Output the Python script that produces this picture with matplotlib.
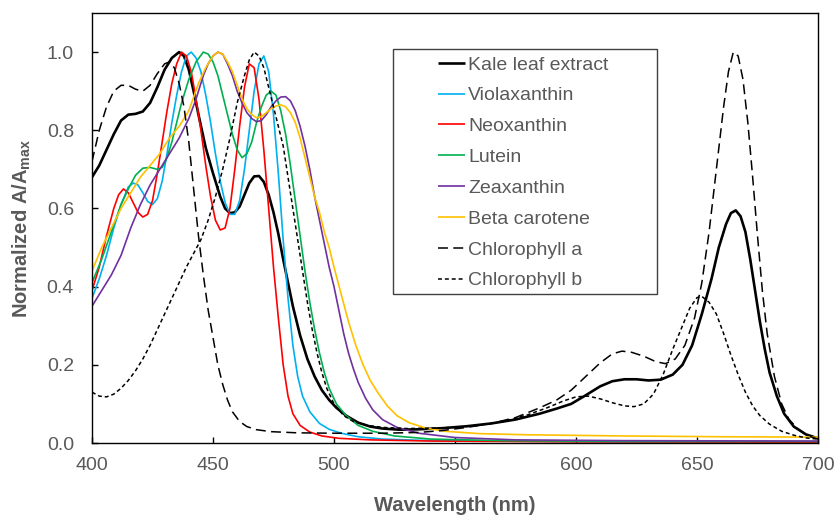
import matplotlib
matplotlib.use("Agg")
import matplotlib.pyplot as plt
from matplotlib.patches import Rectangle

plt.rcParams['font.family'] = ['Liberation Sans', 'DejaVu Sans']
plt.rcParams['mathtext.fontset'] = 'custom'
plt.rcParams['mathtext.rm'] = 'Liberation Sans'
plt.rcParams['mathtext.bf'] = 'Liberation Sans:bold'

# ---------------- data ----------------
kale_wl = [400, 403, 406, 409, 412, 415, 418, 421, 424, 427, 430, 433, 436, 438, 440, 442, 444, 447, 450, 453,
           455, 457, 459, 461, 463, 465, 467, 469, 471, 473, 475, 477, 479, 481, 483, 486, 489, 492, 495, 498,
           501, 505, 510, 515, 520, 527, 535, 545, 555, 565, 575, 585, 592, 598, 604, 610, 615, 620, 625, 630,
           635, 640, 644, 648, 652, 656, 659, 662, 664, 666, 668, 670, 672, 674, 676, 678, 680, 683, 686, 690,
           695, 700]
kale = [0.68, 0.71, 0.75, 0.79, 0.825, 0.84, 0.842, 0.848, 0.87, 0.91, 0.955, 0.985, 1.0, 0.99, 0.955, 0.9, 0.84,
        0.755, 0.69, 0.63, 0.60, 0.588, 0.59, 0.605, 0.635, 0.665, 0.682, 0.683, 0.668, 0.635, 0.59, 0.535, 0.47,
        0.41, 0.35, 0.275, 0.215, 0.17, 0.135, 0.11, 0.09, 0.07, 0.052, 0.042, 0.037, 0.034, 0.035, 0.038, 0.043,
        0.05, 0.06, 0.075, 0.088, 0.1, 0.122, 0.145, 0.158, 0.163, 0.163, 0.16, 0.162, 0.175, 0.2, 0.25, 0.33,
        0.42, 0.5, 0.56, 0.588, 0.595, 0.58, 0.54, 0.47, 0.39, 0.31, 0.24, 0.18, 0.12, 0.075, 0.042, 0.022, 0.012]

viola_wl = [400, 403, 406, 409, 412, 415, 417, 419, 421, 423, 425, 427, 429, 431, 433, 435, 437, 439, 441, 443,
            445, 447, 449, 451, 453, 455, 457, 459, 461, 463, 465, 467, 469, 471, 473, 475, 477, 479, 481, 483,
            485, 487, 490, 494, 498, 503, 510, 520, 535, 560, 600, 650, 700]
viola = [0.37, 0.42, 0.48, 0.55, 0.61, 0.655, 0.665, 0.66, 0.64, 0.618, 0.61, 0.625, 0.67, 0.74, 0.82, 0.89, 0.95,
         0.99, 1.0, 0.985, 0.95, 0.89, 0.82, 0.74, 0.67, 0.615, 0.585, 0.585, 0.62, 0.7, 0.8, 0.9, 0.97, 0.99,
         0.95, 0.84, 0.69, 0.52, 0.37, 0.25, 0.17, 0.12, 0.08, 0.05, 0.035, 0.025, 0.016, 0.01, 0.007, 0.005,
         0.004, 0.003, 0.003]

neo_wl = [400, 403, 406, 409, 411, 413, 415, 417, 419, 421, 423, 425, 427, 429, 431, 433, 435, 437, 439, 441,
          443, 445, 447, 449, 451, 453, 455, 457, 459, 461, 463, 465, 467, 469, 471, 473, 475, 477, 479, 481,
          483, 486, 490, 495, 502, 515, 540, 600, 700]
neo = [0.39, 0.45, 0.53, 0.6, 0.635, 0.65, 0.64, 0.615, 0.59, 0.578, 0.585, 0.62, 0.69, 0.77, 0.85, 0.92, 0.97,
       1.0, 0.99, 0.95, 0.88, 0.8, 0.71, 0.63, 0.57, 0.545, 0.55, 0.6, 0.7, 0.81, 0.91, 0.97, 0.96, 0.88, 0.75,
       0.6, 0.45, 0.32, 0.2, 0.12, 0.075, 0.045, 0.028, 0.018, 0.012, 0.008, 0.005, 0.003, 0.002]

lut_wl = [400, 404, 408, 412, 415, 418, 421, 424, 427, 429, 431, 433, 435, 437, 440, 443, 446, 448, 450, 452,
          454, 456, 458, 460, 462, 464, 466, 468, 470, 472, 474, 476, 478, 480, 482, 484, 486, 488, 490, 492,
          494, 496, 498, 501, 505, 510, 516, 525, 540, 570, 620, 700]
lut = [0.41, 0.47, 0.54, 0.61, 0.65, 0.685, 0.703, 0.705, 0.7, 0.705, 0.73, 0.77, 0.82, 0.87, 0.93, 0.975, 1.0,
       0.995, 0.975, 0.94, 0.89, 0.84, 0.79, 0.75, 0.73, 0.74, 0.77, 0.82, 0.86, 0.89, 0.9, 0.89, 0.85, 0.79,
       0.71, 0.62, 0.53, 0.44, 0.36, 0.29, 0.23, 0.18, 0.14, 0.1, 0.07, 0.045, 0.03, 0.018, 0.01, 0.006, 0.004,
       0.004]

zea_wl = [400, 404, 408, 412, 416, 420, 424, 428, 432, 436, 440, 443, 446, 448, 450, 452, 454, 456, 458, 460,
          462, 464, 466, 468, 470, 472, 474, 476, 478, 480, 482, 484, 486, 488, 490, 492, 494, 496, 498, 500,
          502, 504, 506, 508, 510, 513, 516, 520, 526, 535, 550, 575, 620, 700]
zea = [0.35, 0.39, 0.43, 0.48, 0.55, 0.61, 0.66, 0.7, 0.74, 0.78, 0.83, 0.88, 0.94, 0.97, 0.99, 1.0, 0.995,
       0.97, 0.94, 0.9, 0.87, 0.845, 0.83, 0.822, 0.825, 0.84, 0.86, 0.875, 0.885, 0.886, 0.875, 0.85, 0.81,
       0.76, 0.7, 0.63, 0.57, 0.51, 0.45, 0.4, 0.34, 0.28, 0.23, 0.19, 0.155, 0.115, 0.085, 0.06, 0.04, 0.025,
       0.014, 0.008, 0.006, 0.005]

beta_wl = [400, 404, 408, 412, 416, 420, 424, 428, 432, 436, 440, 444, 447, 450, 452, 454, 456, 458, 460, 462,
           464, 466, 468, 470, 472, 474, 476, 478, 480, 482, 484, 486, 488, 490, 492, 494, 496, 498, 500, 503,
           506, 509, 512, 515, 518, 522, 526, 531, 538, 546, 560, 580, 620, 660, 700]
beta = [0.44, 0.5, 0.55, 0.6, 0.64, 0.68, 0.71, 0.74, 0.78, 0.81, 0.85, 0.92, 0.96, 0.99, 1.0, 0.995, 0.975,
        0.95, 0.915, 0.88, 0.855, 0.84, 0.832, 0.835, 0.845, 0.855, 0.862, 0.865, 0.86, 0.845, 0.82, 0.78, 0.73,
        0.68, 0.63, 0.59, 0.54, 0.5, 0.45, 0.38, 0.31, 0.25, 0.2, 0.16, 0.13, 0.095, 0.07, 0.052, 0.038, 0.03,
        0.024, 0.021, 0.018, 0.016, 0.015]

chla_wl = [400, 403, 406, 409, 412, 415, 418, 421, 424, 427, 430, 432, 434, 436, 438, 440, 442, 444, 446, 448,
           450, 452, 454, 456, 458, 461, 464, 468, 474, 485, 500, 520, 535, 545, 555, 565, 575, 585, 592, 598,
           604, 610, 615, 619, 623, 628, 633, 637, 641, 645, 649, 652, 655, 658, 661, 663, 665, 667, 669, 671,
           673, 675, 677, 679, 682, 685, 688, 692, 696, 700]
chla = [0.72, 0.8, 0.86, 0.9, 0.915, 0.915, 0.905, 0.9, 0.915, 0.945, 0.97, 0.975, 0.96, 0.92, 0.86, 0.77, 0.65,
        0.53, 0.43, 0.34, 0.27, 0.2, 0.15, 0.11, 0.08, 0.055, 0.042, 0.034, 0.029, 0.026, 0.025, 0.025, 0.027,
        0.032, 0.04, 0.05, 0.065, 0.09, 0.11, 0.135, 0.17, 0.205, 0.228, 0.235, 0.232, 0.222, 0.208, 0.203,
        0.215, 0.25, 0.32, 0.41, 0.54, 0.7, 0.86, 0.95, 1.0, 0.99, 0.93, 0.82, 0.68, 0.53, 0.39, 0.28, 0.17,
        0.1, 0.06, 0.035, 0.018, 0.01]

chlb_wl = [400, 403, 406, 409, 412, 415, 418, 421, 424, 427, 430, 433, 436, 439, 442, 445, 448, 451, 454, 457,
           460, 463, 465, 467, 469, 471, 473, 475, 477, 479, 481, 483, 485, 487, 489, 491, 493, 495, 497, 500,
           504, 508, 514, 520, 530, 540, 550, 560, 570, 580, 588, 595, 600, 605, 610, 615, 620, 624, 628, 632,
           636, 640, 644, 647, 650, 652, 655, 658, 661, 664, 667, 670, 673, 676, 680, 685, 690, 695, 700]
chlb = [0.13, 0.12, 0.118, 0.125, 0.14, 0.16, 0.185, 0.215, 0.25, 0.29, 0.33, 0.37, 0.41, 0.45, 0.485, 0.52,
        0.57, 0.63, 0.7, 0.78, 0.87, 0.94, 0.98, 1.0, 0.99, 0.96, 0.91, 0.86, 0.81, 0.76, 0.68, 0.6, 0.52, 0.44,
        0.36, 0.29, 0.23, 0.18, 0.14, 0.1, 0.07, 0.055, 0.045, 0.04, 0.037, 0.038, 0.04, 0.045, 0.055, 0.072,
        0.09, 0.108, 0.118, 0.12, 0.113, 0.103, 0.095, 0.093, 0.1, 0.125, 0.175, 0.24, 0.3, 0.345, 0.372, 0.375,
        0.36, 0.33, 0.28, 0.225, 0.175, 0.13, 0.095, 0.07, 0.048, 0.03, 0.02, 0.013, 0.01]

labels = ["Kale leaf extract", "Violaxanthin", "Neoxanthin", "Lutein", "Zeaxanthin",
          "Beta carotene", "Chlorophyll a", "Chlorophyll b"]
x_ticks = [400, 450, 500, 550, 600, 650, 700]
y_ticks = [0.0, 0.2, 0.4, 0.6, 0.8, 1.0]

# ---------------- figure ----------------
fig = plt.figure(figsize=(8.36, 5.15), dpi=100)
ax = fig.add_axes([92 / 836, 1 - 443 / 515, 726 / 836, 430 / 515])

gray = '#595959'
series = [
    (kale_wl, kale, dict(color='black', lw=1.9)),
    (viola_wl, viola, dict(color='#00B0F0', lw=1.2)),
    (neo_wl, neo, dict(color='#FF0000', lw=1.2)),
    (lut_wl, lut, dict(color='#00B050', lw=1.2)),
    (zea_wl, zea, dict(color='#7030A0', lw=1.2)),
    (beta_wl, beta, dict(color='#FFC000', lw=1.2)),
    (chla_wl, chla, dict(color='black', lw=1.1, dashes=(6.5, 3.5))),
    (chlb_wl, chlb, dict(color='black', lw=1.1, dashes=(2.6, 1.9))),
]
handles = []
for (xw, yv, kw), lab in zip(series, labels):
    h, = ax.plot(xw, yv, label=lab, solid_capstyle='butt', dash_capstyle='butt', **kw)
    handles.append(h)

ax.set_xlim(400, 700)
ax.set_ylim(0, 1.1)
ax.set_xticks(x_ticks)
ax.set_xticklabels([str(v) for v in x_ticks])
ax.set_yticks(y_ticks)
ax.set_yticklabels([f"{v:.1f}" for v in y_ticks])
ax.tick_params(axis='both', direction='in', length=4.5, width=1, colors='black',
               labelcolor=gray, labelsize=14)
ax.tick_params(axis='y', pad=13)
ax.tick_params(axis='x', pad=10)
for s in ax.spines.values():
    s.set_color('black')
    s.set_linewidth(1.0)

ax.set_xlabel('Wavelength (nm)', fontsize=14.5, fontweight='bold', color=gray, labelpad=16)
ax.set_ylabel(r'Normalized A/A$_{\mathbf{max}}$', fontsize=14.5, fontweight='bold', color=gray, labelpad=10)

# legend box (frame drawn separately to match the wide padding of the original)
ax.add_patch(Rectangle(((393 - 92) / 726, (443 - 294) / 430), (657 - 393) / 726, (294 - 49) / 430,
                       transform=ax.transAxes, fill=False, edgecolor='#404040', lw=1.0, zorder=5))
leg = ax.legend(handles=handles, loc='upper left',
                bbox_to_anchor=((438 - 92) / 726, (443 - 56) / 430),
                frameon=False, fontsize=14, handlelength=1.4, handletextpad=0.15,
                labelspacing=0.68, borderpad=0, borderaxespad=0)
for t in leg.get_texts():
    t.set_color(gray)

fig.savefig('out.png', dpi=100)
